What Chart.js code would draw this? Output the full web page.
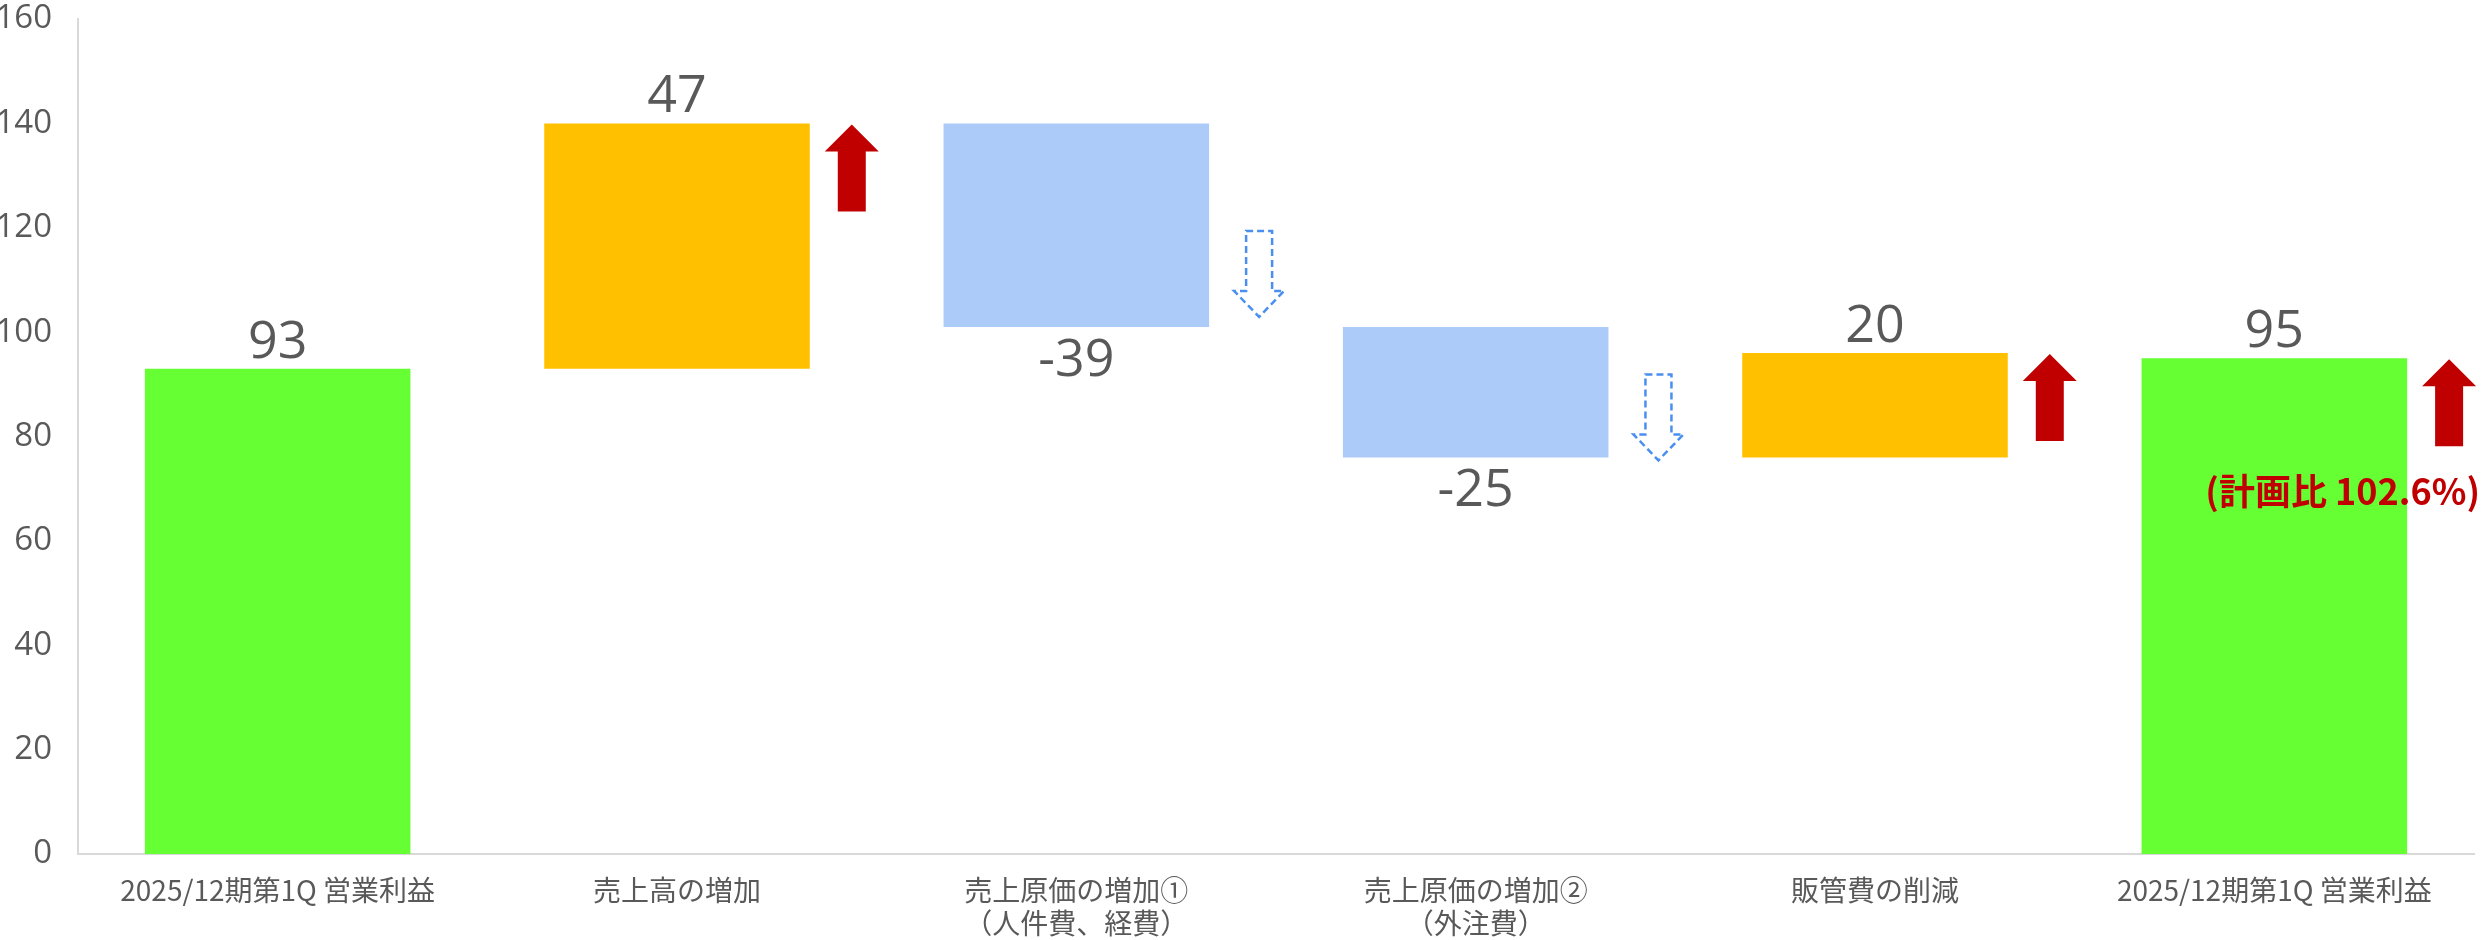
<!DOCTYPE html>
<html lang="ja">
<head>
<meta charset="utf-8">
<title>営業利益 増減</title>
<script src="https://cdn.jsdelivr.net/npm/chart.js@4.4.1/dist/chart.umd.min.js"></script>
<style>
    html, body { margin: 0; padding: 0; background: #ffffff; }
    #wrap { width: 2488px; height: 940px; }
</style>
</head>
<body>
<div id="wrap"><canvas id="waterfall" width="2488" height="940"></canvas></div>
<script>
// bridge data
const categories = [
    '2025/12期第1Q 営業利益',
    '売上高の増加',
    ['売上原価の増加①', '（人件費、経費）'],
    ['売上原価の増加②', '（外注費）'],
    '販管費の削減',
    '2025/12期第1Q 営業利益'
];
const values = [93, 47, -39, -25, 20, 95];
const kinds = ['total', 'up', 'down', 'down', 'up', 'total'];
const yMin = 0;
const yMax = 160;
const yStep = 20;
const planNote = '(計画比 102.6%)';
const planNoteAt = 69;

// arrows next to the bars (shift = px nudge from the bar edge)
const arrowMarks = [
    { index: 1, dir: 'up', shift: 1 },
    { index: 2, dir: 'down', shift: -10 },
    { index: 3, dir: 'down', shift: 3 },
    { index: 4, dir: 'up', shift: 1 },
    { index: 5, dir: 'up', shift: 1 }
];

const kindColors = { total: '#66FF33', up: '#FFC000', down: '#ADCBF8' };
const textGray = '#595959';
const axisGray = '#D9D9D9';

// floating bar ranges from the running total
let running = 0;
const ranges = values.map((v, i) =>
{
    if (kinds[i] === 'total')
    {
        running = v;
        return [0, v];
    }
    const start = running;
    running += v;
    return [Math.min(start, running), Math.max(start, running)];
});

const valueLabels = {
    id: 'valueLabels',
    afterDatasetsDraw(chart)
    {
        const ctx = chart.ctx;
        const bars = chart.getDatasetMeta(0).data;
        ctx.save();
        ctx.fillStyle = textGray;
        ctx.font = '52px "Open Sans", "Noto Sans", sans-serif';
        ctx.textAlign = 'center';
        ctx.textBaseline = 'alphabetic';
        bars.forEach((bar, i) =>
        {
            const top = Math.min(bar.y, bar.base);
            const bottom = Math.max(bar.y, bar.base);
            if (values[i] >= 0)
            {
                ctx.fillText(String(values[i]), bar.x, top - 11);
            }
            else
            {
                ctx.fillText(String(values[i]), bar.x, bottom + 49);
            }
        });
        ctx.restore();
    }
};

const arrows = {
    id: 'arrows',
    afterDatasetsDraw(chart)
    {
        const ctx = chart.ctx;
        const bars = chart.getDatasetMeta(0).data;
        arrowMarks.forEach(mark =>
        {
            const bar = bars[mark.index];
            const top = Math.min(bar.y, bar.base);
            const bottom = Math.max(bar.y, bar.base);
            const right = bar.x + bar.width / 2;
            ctx.save();
            ctx.beginPath();
            if (mark.dir === 'up')
            {
                const cx = right + 42;
                const h = 87, headH = 27, headW = 54, shaftW = 28;
                const y0 = top + mark.shift;
                ctx.moveTo(cx, y0);
                ctx.lineTo(cx + headW / 2, y0 + headH);
                ctx.lineTo(cx + shaftW / 2, y0 + headH);
                ctx.lineTo(cx + shaftW / 2, y0 + h);
                ctx.lineTo(cx - shaftW / 2, y0 + h);
                ctx.lineTo(cx - shaftW / 2, y0 + headH);
                ctx.lineTo(cx - headW / 2, y0 + headH);
                ctx.closePath();
                ctx.fillStyle = '#C00000';
                ctx.fill();
            }
            else
            {
                const cx = right + 50;
                const h = 86, headH = 26, headW = 50, shaftW = 26;
                const tip = bottom + mark.shift;
                const y0 = tip - h;
                ctx.moveTo(cx - shaftW / 2, y0);
                ctx.lineTo(cx + shaftW / 2, y0);
                ctx.lineTo(cx + shaftW / 2, tip - headH);
                ctx.lineTo(cx + headW / 2, tip - headH);
                ctx.lineTo(cx, tip);
                ctx.lineTo(cx - headW / 2, tip - headH);
                ctx.lineTo(cx - shaftW / 2, tip - headH);
                ctx.closePath();
                ctx.fillStyle = '#ffffff';
                ctx.fill();
                ctx.setLineDash([7, 4]);
                ctx.lineWidth = 2.5;
                ctx.strokeStyle = '#4A8FEF';
                ctx.stroke();
            }
            ctx.restore();
        });
    }
};

const planLabel = {
    id: 'planLabel',
    afterDatasetsDraw(chart)
    {
        const ctx = chart.ctx;
        const y = chart.scales.y.getPixelForValue(planNoteAt);
        ctx.save();
        ctx.fillStyle = '#C00000';
        ctx.font = 'bold 36px "Noto Sans CJK JP", sans-serif';
        ctx.textAlign = 'right';
        ctx.textBaseline = 'middle';
        ctx.fillText(planNote, chart.width - 8, y - 3);
        ctx.restore();
    }
};

const chart = new Chart(document.getElementById('waterfall').getContext('2d'), {
    type: 'bar',
    data: {
        labels: categories,
        datasets: [
            {
                data: ranges,
                backgroundColor: kinds.map(k => kindColors[k]),
                borderWidth: 0,
                barPercentage: 0.665,
                categoryPercentage: 1
            }
        ]
    },
    options: {
        responsive: false,
        devicePixelRatio: 1,
        animation: false,
        layout: {
            padding: { top: 19, right: 14, bottom: 0, left: 0 }
        },
        plugins: {
            legend: { display: false },
            tooltip: { enabled: false }
        },
        scales: {
            x: {
                grid: { display: false },
                border: { display: true, color: axisGray, width: 2 },
                ticks: {
                    color: textGray,
                    padding: 12,
                    font: { family: '"Noto Sans CJK JP", sans-serif', size: 28, lineHeight: 1.18 },
                    maxRotation: 0,
                    autoSkip: false
                },
                afterFit: scale =>
                {
                    scale.height = 86;
                    scale.paddingLeft = 0;
                    scale.paddingRight = 0;
                }
            },
            y: {
                min: yMin,
                max: yMax,
                grid: { display: false },
                border: { display: true, color: axisGray, width: 2 },
                ticks: {
                    stepSize: yStep,
                    color: textGray,
                    padding: 18,
                    font: { family: '"Open Sans", "Noto Sans", sans-serif', size: 33 }
                },
                afterFit: scale =>
                {
                    scale.width = 78;
                    scale.paddingTop = 0;
                    scale.paddingBottom = 0;
                }
            }
        }
    },
    plugins: [valueLabels, arrows, planLabel]
});
</script>
</body>
</html>
